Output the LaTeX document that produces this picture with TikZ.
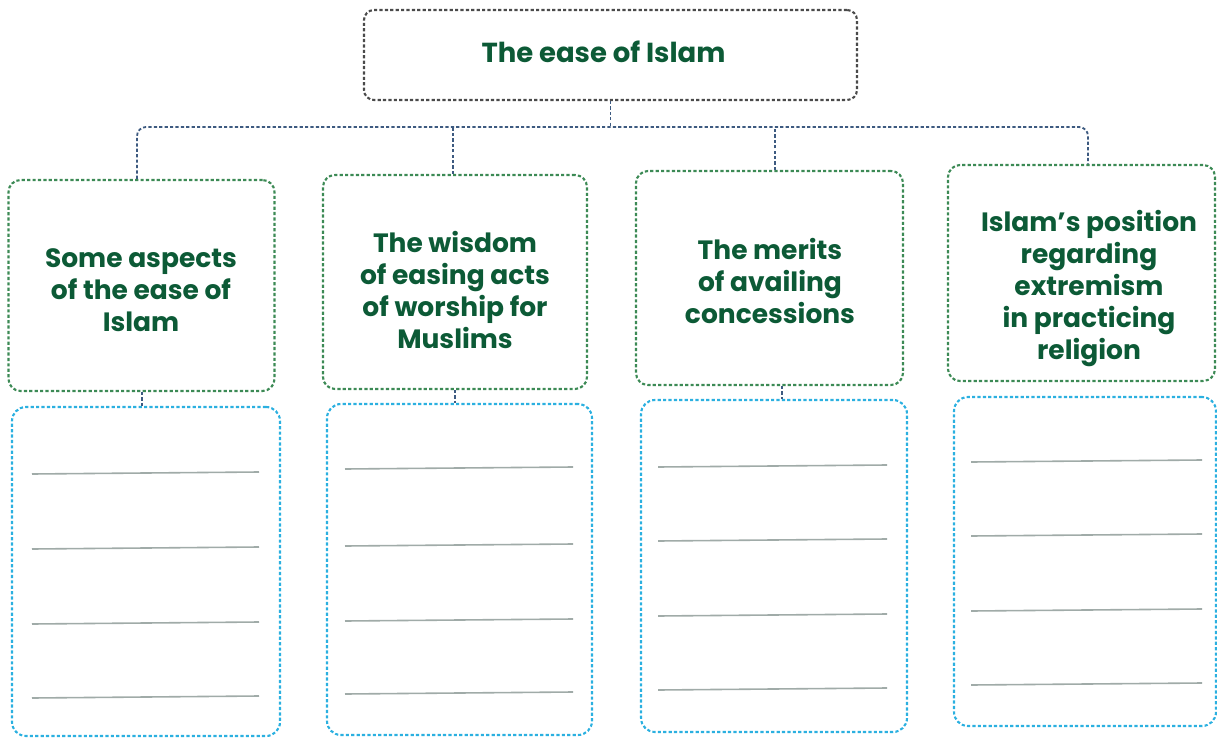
\documentclass[tikz,border=0pt]{standalone}
\usepackage{fontspec}
\newfontfamily\gfont{Poppins}
\definecolor{txtgreen}{HTML}{0C5A36}
\definecolor{boxgreen}{HTML}{3C8A55}
\definecolor{boxblue}{HTML}{2BB0E0}
\definecolor{conncol}{HTML}{3D5A80}
\definecolor{topcol}{HTML}{4A4A4A}
\definecolor{linegray}{HTML}{A0ABA8}
\begin{document}
\begin{tikzpicture}[x=1pt,y=-1pt,
  dsh/.style={line width=2.1pt,dash pattern=on 3.2pt off 2.2pt},
  lbl/.style={align=center,inner sep=0pt,font=\gfont\bfseries\fontsize{26.5}{32}\selectfont,text=txtgreen},
  topbox/.style={draw=topcol,dsh,rounded corners=10pt,minimum width=493pt,minimum height=90pt,inner sep=0pt},
  greenbox/.style={draw=boxgreen,dsh,rounded corners=12pt,inner sep=0pt},
  bluebox/.style={draw=boxblue,dsh,rounded corners=14pt,inner sep=0pt},
  conn/.style={draw=conncol,dsh,line width=1.8pt},
  wline/.style={draw=linegray,line width=1.6pt}]
\useasboundingbox (0,0) rectangle (1217,738);
% top
\node[topbox] (top) at (610.5,55) {};
\node[lbl,font=\gfont\bfseries\fontsize{27.5}{32}\selectfont] (tt) at (603.5,52) {The ease of Islam};
% green boxes
\node[greenbox,minimum width=266pt,minimum height=211pt] (g1) at (141.5,285.5) {};
\node[greenbox,minimum height=214pt,minimum width=264pt] (g2) at (455,282) {};
\node[greenbox,minimum height=214pt,minimum width=267pt] (g3) at (769.5,278) {};
\node[greenbox,minimum height=216pt,minimum width=267pt] (g4) at (1081.5,273) {};
\node[lbl] (t1) at (141,290) {Some aspects\\of the ease of\\Islam};
\node[lbl] (t2) at (455,290) {The wisdom\\of easing acts\\of worship for\\Muslims};
\node[lbl] (t3) at (770,281) {The merits\\of availing\\concessions};
\node[lbl] (t4) at (1089,289) {Islam’s position\\regarding\\extremism\\in practicing\\religion};
% blue boxes
\node[bluebox,minimum width=268pt,minimum height=329pt] (b1) at (146,571.5) {};
\node[bluebox,minimum width=265pt,minimum height=331pt] (b2) at (459.5,569.5) {};
\node[bluebox,minimum width=266pt,minimum height=332pt] (b3) at (774,566) {};
\node[bluebox,minimum width=262pt,minimum height=329pt] (b4) at (1085,561.5) {};
% attachment points
\coordinate (bus) at (0,127);
\coordinate (a1) at ([xshift=-4.5pt]g1.north);
\coordinate (a2) at ([xshift=-2pt]g2.north);
\coordinate (a3) at ([xshift=5.5pt]g3.north);
\coordinate (a4) at ([xshift=6.5pt]g4.north);
\coordinate (s1) at ([xshift=0.5pt]g1.south);
\coordinate (s2) at (g2.south);
\coordinate (s3) at ([xshift=12.5pt]g3.south);
% bus
\draw[conn] (top.south) -- (top.south |- bus);
\draw[conn,rounded corners=9pt] (a1) |- (bus -| a4) -- (a4);
\draw[conn] (a2) -- (a2 |- bus);
\draw[conn] (a3) -- (a3 |- bus);
% short links
\draw[conn] (s1) -- (s1 |- b1.north);
\draw[conn] (s2) -- (s2 |- b2.north);
\draw[conn] (s3) -- (s3 |- b3.north);
% writing lines
\foreach \xa/\xb/\ya/\yb/\yc/\yd in {32/259/473/548/623/697, 345/573/468/545/620/693, 658/887/466/540/615/689, 971/1202/461/535/610/684}{
  \draw[wline] (\xa,\ya+1) -- (\xb,\ya-1);
  \draw[wline] (\xa,\yb+1) -- (\xb,\yb-1);
  \draw[wline] (\xa,\yc+1) -- (\xb,\yc-1);
  \draw[wline] (\xa,\yd+1) -- (\xb,\yd-1);
}
\end{tikzpicture}
\end{document}
